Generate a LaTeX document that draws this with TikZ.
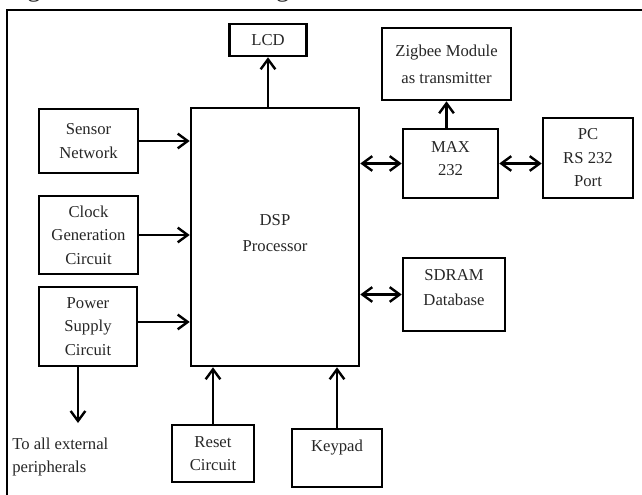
\documentclass[tikz,border=0pt]{standalone}
\usepackage{fontspec}
\setmainfont{Liberation Serif}
\usetikzlibrary{arrows.meta}
\newcommand\boxfont{\fontsize{12.5}{17.6}\selectfont}
\begin{document}
\begin{tikzpicture}[x=0.75pt,y=-0.75pt,
  box/.style={draw, line width=1.9pt, inner sep=0pt, align=center, font=\boxfont, text=black!85},
  boxsize/.style 2 args={minimum width=#1*0.75pt, minimum height=#2*0.75pt},
  lbl/.style={align=center, font=\boxfont, inner sep=0pt, text=black!85},
  tip/.style={Straight Barb[length=7.5pt,width=11pt]},
  arr/.style={line width=1.8pt, -{Straight Barb[length=7.5pt,width=11pt]}},
  darr/.style={line width=1.8pt, {Straight Barb[length=7.5pt,width=11pt]}-{Straight Barb[length=7.5pt,width=11pt]}}]
\useasboundingbox (0,0) rectangle (642,495);

% running text of the page above the figure frame
\node[anchor=base west, inner sep=0pt, font=\fontsize{20}{24}\selectfont, text=black!85] (caption) at (27,-3.5) {gure to increase the range [13].};

% figure frame
\draw[line width=1.9pt] (7,505) -- (7,10) -- (655,10);

% blocks
\node[box, boxsize={77}{32}] (lcd) at (268,40) {LCD};
\node[box, boxsize={129}{72}, font=\fontsize{12.5}{20}\selectfont] (zig) at (446.5,64) {Zigbee Module\\as transmitter};
\node[box, boxsize={99}{64}] (sensor) at (88.5,141) {Sensor\\Network};
\node[box, boxsize={99}{78}] (clock) at (88.5,235) {Clock\\Generation\\Circuit};
\node[box, boxsize={98}{79}] (power) at (88,326.5) {Power\\Supply\\Circuit};
\node[box, boxsize={168}{258}, label={[lbl, yshift=3pt, font=\fontsize{12.5}{19.5}\selectfont]center:DSP\\Processor}] (dsp) at (275,237) {};
\node[box, boxsize={95}{69}, label={[lbl, yshift=3.75pt]center:MAX\\232}] (max) at (450.5,163.5) {};
\node[box, boxsize={90}{80}] (pc) at (588,158) {PC\\RS 232\\Port};
\node[box, boxsize={102}{73}, label={[lbl, yshift=5.25pt, font=\fontsize{12.5}{18.75}\selectfont]center:SDRAM\\Database}] (sdram) at (454,294.5) {};
\node[box, boxsize={82}{57}] (reset) at (213,453.5) {Reset\\Circuit};
\node[box, boxsize={90}{58}, label={[lbl, yshift=7.5pt]center:Keypad}] (keypad) at (337,458) {};

% connections
\draw[arr] (dsp.north -| lcd.south) -- (lcd.south);
\draw[arr] (max.north -| zig.south) -- (zig.south);
\draw[arr] (sensor.east) -- (sensor.east -| dsp.west);
\draw[arr] (clock.east) -- (clock.east -| dsp.west);
\coordinate (pwrout) at ([yshift=3.4pt]power.east);
\draw[arr] (pwrout) -- (pwrout -| dsp.west);
\draw[darr] (dsp.east |- max.west) -- (max.west);
\draw[darr] (max.east) -- (max.east -| pc.west);
\draw[darr] (dsp.east |- sdram.west) -- (sdram.west);
\draw[arr] (reset.north) -- (reset.north |- dsp.south);
\draw[arr] (keypad.north) -- (keypad.north |- dsp.south);

% supply output to the peripherals
\coordinate (periph) at (78,423);
\draw[arr] (power.south -| periph) -- (periph);
\node[anchor=west, align=left, inner sep=0pt, font=\boxfont, text=black!85] (periphtext) at (12,457) {To all external\\peripherals};
\end{tikzpicture}
\end{document}
